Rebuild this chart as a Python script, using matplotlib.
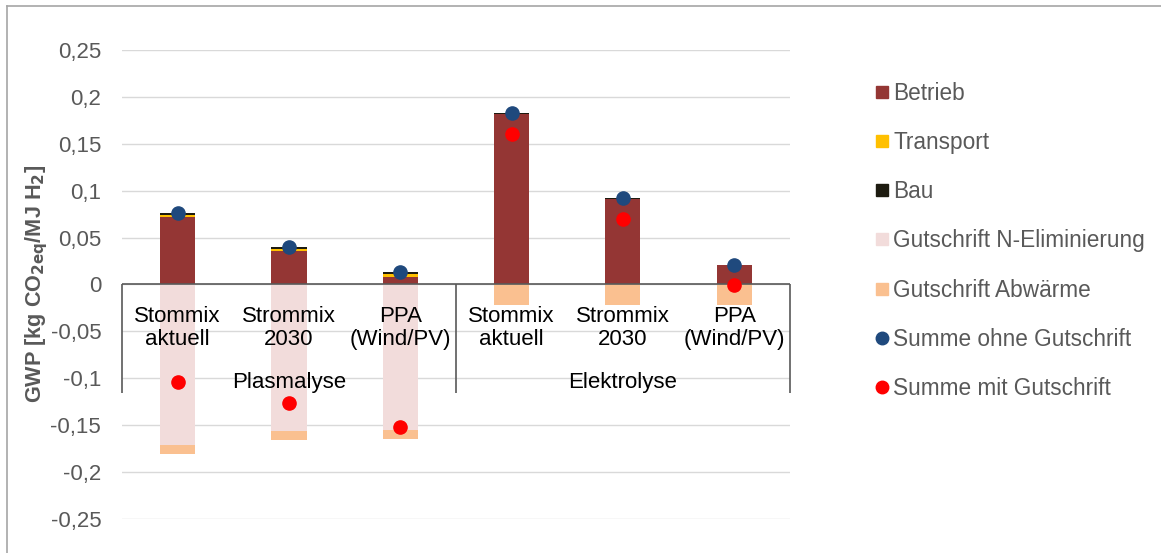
import numpy as np
import matplotlib
matplotlib.use('Agg')
import matplotlib.pyplot as plt
from matplotlib.lines import Line2D
from matplotlib.ticker import FuncFormatter

plt.rcParams['font.family'] = ['Liberation Sans', 'DejaVu Sans']
plt.rcParams['axes.unicode_minus'] = False

# GWP contributions per process and electricity source (kg CO2eq / MJ H2)
categories = ['Stommix\naktuell', 'Strommix\n2030', 'PPA\n(Wind/PV)',
              'Stommix\naktuell', 'Strommix\n2030', 'PPA\n(Wind/PV)']
groups = ['Plasmalyse', 'Elektrolyse']
betrieb = [0.072, 0.0355, 0.0085, 0.182, 0.091, 0.0205]
transport = [0.0027, 0.0027, 0.0027, 0.0005, 0.0005, 0.0003]
bau = [0.0018, 0.0018, 0.0018, 0.0005, 0.0005, 0.0002]
gutschrift_n = [-0.171, -0.156, -0.155, 0.0, 0.0, 0.0]
gutschrift_abw = [-0.010, -0.010, -0.010, -0.022, -0.022, -0.022]

summe_ohne = np.array(betrieb) + np.array(transport) + np.array(bau)
summe_mit = summe_ohne + np.array(gutschrift_n) + np.array(gutschrift_abw)

c_betrieb = '#943634'
c_transport = '#FFC000'
c_bau = '#1D1B10'
c_n = '#F2DCDB'
c_abw = '#FAC090'
c_ohne = '#1F497D'
c_mit = '#FF0000'
grey = '#595959'

fig = plt.figure(figsize=(11.61, 5.53), dpi=100)
ax = fig.add_axes([0.1051, 0.0615, 0.5753, 0.8481])

x = np.arange(len(categories))
w = 0.315

ax.bar(x, betrieb, w, color=c_betrieb, zorder=2)
ax.bar(x, transport, w, bottom=betrieb, color=c_transport, zorder=2)
ax.bar(x, bau, w, bottom=np.array(betrieb) + np.array(transport), color=c_bau, zorder=2)
ax.bar(x, gutschrift_n, w, color=c_n, zorder=2)
ax.bar(x, gutschrift_abw, w, bottom=gutschrift_n, color=c_abw, zorder=2)

ax.plot(x, summe_ohne, 'o', color=c_ohne, ms=9.5, zorder=5)
ax.plot(x, summe_mit, 'o', color=c_mit, ms=9.5, zorder=5)

ax.set_xlim(-0.5, 5.5)
ax.set_ylim(-0.2503, 0.2503)
ax.set_yticks(np.arange(-0.25, 0.26, 0.05))
ax.yaxis.set_major_formatter(FuncFormatter(
    lambda v, p: '0' if abs(v) < 1e-9 else f'{round(v, 2):g}'.replace('.', ',')))
ax.tick_params(axis='y', length=0, pad=15, labelsize=16, labelcolor=grey)
ax.set_xticks([])
ax.grid(axis='y', color='#D9D9D9', lw=1, zorder=0)
ax.set_axisbelow(True)
for s in ax.spines.values():
    s.set_visible(False)

# category axis at zero with group separators
ax.axhline(0, color=grey, lw=1.2, zorder=4)
ax.vlines([-0.5, 2.5, 5.5], -0.116, 0, color=grey, lw=1.2, zorder=4, clip_on=False)
for xi, lab in zip(x, categories):
    ax.text(xi, -0.0645, lab, ha='center', va='baseline', fontsize=16,
            color='black', linespacing=1.15, zorder=6)
for gi, g in enumerate(groups):
    ax.text(gi * 3 + 1, -0.1105, g, ha='center', va='baseline', fontsize=16,
            color='black', zorder=6)

ax.set_ylabel('GWP [kg CO$_{\\mathbf{2eq}}$/MJ H$_\\mathbf{2}$]', fontsize=15.6,
              fontweight='bold', color=grey, va='center')
ax.yaxis.set_label_coords(-0.128, 0.5)

handles = [
    Line2D([], [], ls='none', marker='s', ms=8, color=c_betrieb),
    Line2D([], [], ls='none', marker='s', ms=8, color=c_transport),
    Line2D([], [], ls='none', marker='s', ms=8, color=c_bau),
    Line2D([], [], ls='none', marker='s', ms=8, color=c_n),
    Line2D([], [], ls='none', marker='s', ms=8, color=c_abw),
    Line2D([], [], ls='none', marker='o', ms=9, color=c_ohne),
    Line2D([], [], ls='none', marker='o', ms=9, color=c_mit),
]
labels = ['Betrieb', 'Transport', 'Bau', 'Gutschrift N-Eliminierung',
          'Gutschrift Abwärme', 'Summe ohne Gutschrift', 'Summe mit Gutschrift']
leg = fig.legend(handles, labels, loc='upper left', bbox_to_anchor=(0.754, 0.8525),
                 frameon=False, fontsize=16.3, handlelength=0.6, handletextpad=0.19,
                 labelspacing=1.16, borderpad=0, borderaxespad=0)
for t in leg.get_texts():
    t.set_color(grey)

# chart frame
fig.add_artist(Line2D([7 / 1161, 7 / 1161], [0, 1 - 6 / 553], color='#A6A6A6', lw=1.2))
fig.add_artist(Line2D([7 / 1161, 1], [1 - 6 / 553, 1 - 6 / 553], color='#A6A6A6', lw=1.2))

fig.savefig('out.png', dpi=100)
